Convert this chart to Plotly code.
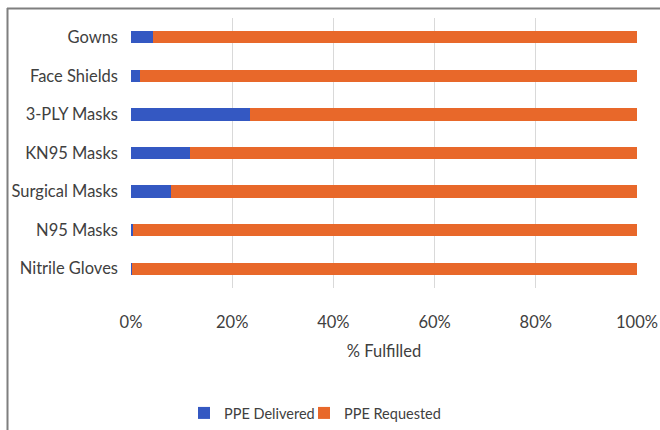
import plotly.graph_objects as go

# PPE fulfilment by item (percent of total request)
items = ["Gowns", "Face Shields", "3-PLY Masks", "KN95 Masks",
         "Surgical Masks", "N95 Masks", "Nitrile Gloves"]
delivered_pct = [4.3, 1.8, 23.5, 11.7, 7.9, 0.3, 0.1]
requested_pct = [95.7, 98.2, 76.5, 88.3, 92.1, 99.7, 99.9]
x_ticks = [0, 20, 40, 60, 80, 100]
x_tick_labels = ["0%", "20%", "40%", "60%", "80%", "100%"]

W, H = 660, 430
ML, MR, MT, MB = 131, 23, 18, 142
font_family = "Lato, 'Open Sans', sans-serif"
text_color = "#404040"

fig = go.Figure()
fig.add_trace(go.Bar(
    y=items, x=delivered_pct, orientation="h", name="PPE Delivered",
    marker=dict(color="#3458C2", line=dict(width=0)), width=0.32,
    legend="legend", showlegend=True,
))
fig.add_trace(go.Bar(
    y=items, x=requested_pct, orientation="h", name="PPE Requested",
    marker=dict(color="#E8682A", line=dict(width=0)), width=0.32,
    legend="legend2", showlegend=True,
))

# frame lines along the top and left of the figure
pw = W - ML - MR
ph = H - MT - MB
def px_to_paper_x(px):
    return (px - ML) / pw
def px_to_paper_y(py):
    return (H - MB - py) / ph

frame = dict(color="#7f7f7f", width=2)
fig.add_shape(type="line", xref="paper", yref="paper",
              x0=px_to_paper_x(7), x1=px_to_paper_x(W + 5),
              y0=px_to_paper_y(8.5), y1=px_to_paper_y(8.5), line=frame)
fig.add_shape(type="line", xref="paper", yref="paper",
              x0=px_to_paper_x(7.5), x1=px_to_paper_x(7.5),
              y0=px_to_paper_y(8), y1=px_to_paper_y(H + 5), line=frame)

legend_style = dict(
    orientation="h", xanchor="left", yanchor="middle",
    y=px_to_paper_y(413),
    font=dict(size=14.5, color=text_color),
    itemwidth=30, bgcolor="rgba(0,0,0,0)",
)

fig.update_layout(
    width=W, height=H,
    margin=dict(l=ML, r=MR, t=MT, b=MB, autoexpand=False),
    barmode="stack",
    showlegend=True,
    plot_bgcolor="white", paper_bgcolor="white",
    font=dict(family=font_family, size=16, color=text_color),
    xaxis=dict(
        range=[0, 100], tickvals=x_ticks, ticktext=x_tick_labels,
        showgrid=True, gridcolor="#d9d9d9", gridwidth=1,
        zeroline=False, showline=False, ticks="",
        tickfont=dict(size=16.5, color=text_color),
        ticklabelstandoff=22,
        title=dict(text="% Fulfilled", font=dict(size=16.5, color=text_color),
                   standoff=14),
        fixedrange=True, automargin=False,
    ),
    yaxis=dict(
        categoryorder="array", categoryarray=items[::-1],
        range=[-0.5, len(items) - 0.5],
        showgrid=False, zeroline=False, showline=False, ticks="",
        tickfont=dict(size=16.5, color=text_color),
        ticklabelstandoff=12,
        fixedrange=True, automargin=False,
    ),
    legend=dict(legend_style, x=px_to_paper_x(184)),
    legend2=dict(legend_style, x=px_to_paper_x(304)),
    bargap=0,
)

fig.write_html("out.html")
